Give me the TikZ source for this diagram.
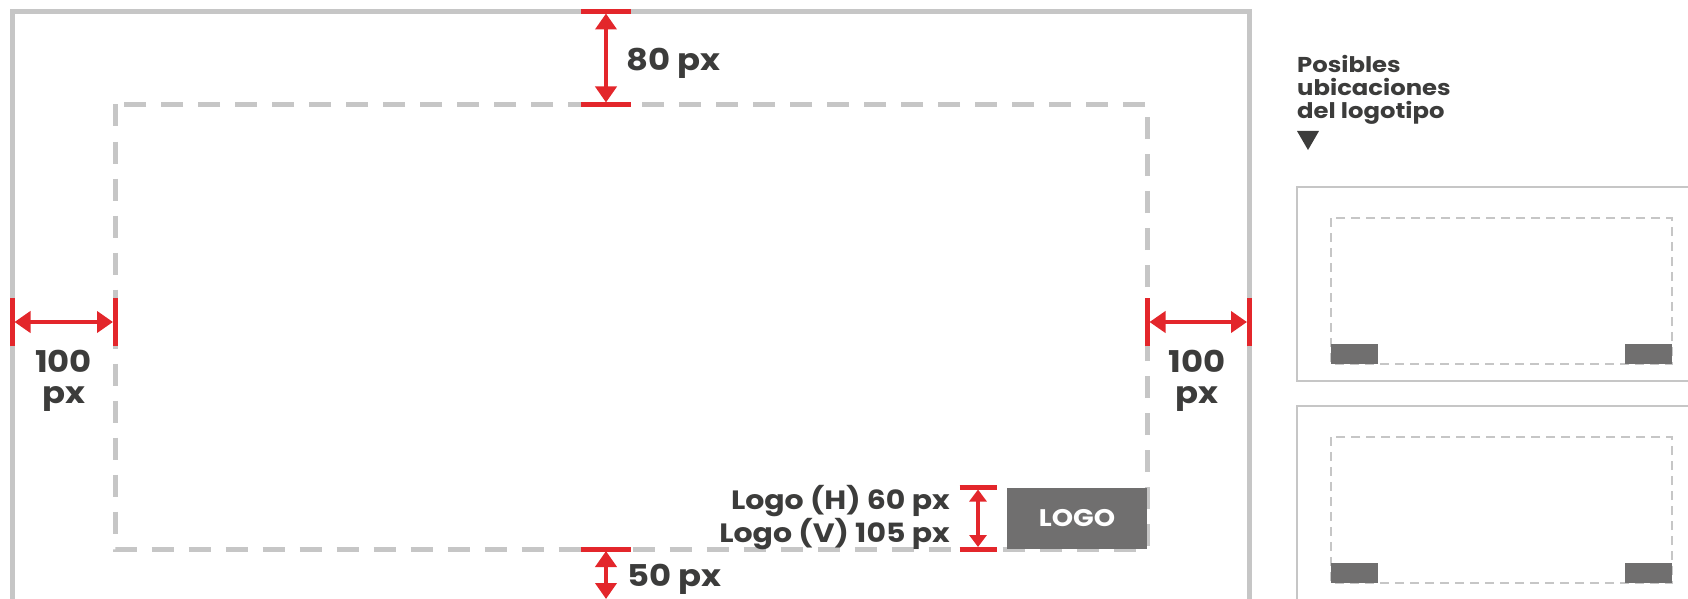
\documentclass[tikz,border=0pt]{standalone}
\usepackage{fontspec}
\setmainfont{Poppins}[FakeStretch=1.13]
\usetikzlibrary{arrows.meta}
\definecolor{gris}{HTML}{C6C6C6}
\definecolor{rojo}{HTML}{E3262B}
\definecolor{oscuro}{HTML}{3C3C3B}
\definecolor{grislogo}{HTML}{706F6F}

\tikzset{
    cota/.style = {draw=rojo, line width=4pt, shorten <=2pt, shorten >=2pt,
        {Triangle[width=21pt, length=16pt]}-{Triangle[width=21pt, length=16pt]}},
    tope/.style = {draw=rojo, line width=5pt},
    rotulo/.style = {text=oscuro, inner sep=0pt, font=\bfseries\fontsize{30}{31}\selectfont}
}

\begin{document}
\begin{tikzpicture}[x=1pt, y=-1pt]
    \useasboundingbox (0,0) rectangle (1688,599);
    % lienzo y zona segura
    \draw[gris, line width=5pt] (12.5,11.5) rectangle (1249,601);
    \draw[gris, line width=5pt, dash pattern=on 22pt off 15pt] (115,104.5) rectangle (1147.5,549);
    \node[fill=grislogo, text=white, inner sep=0pt, minimum width=140.5pt, minimum height=61pt,
        anchor=south east, font=\bfseries\fontsize{24}{24}\selectfont] (logo) at (1147.5,549) {LOGO};

    % margenes
    \coordinate (arriba) at (606,11.5);
    \coordinate (zonaArriba) at (606,104.5);
    \coordinate (zonaAbajo) at (606,549);
    \coordinate (abajo) at (606,601);
    \coordinate (izquierda) at (12.5,322);
    \coordinate (zonaIzq) at (115,322);
    \coordinate (zonaDer) at (1147.5,322);
    \coordinate (derecha) at (1249,322);
    \foreach \c in {arriba, zonaArriba, zonaAbajo, abajo}{
        \draw[tope] ([xshift=-25pt]\c) -- ([xshift=25pt]\c);
    }
    \foreach \c in {izquierda, zonaIzq, zonaDer, derecha}{
        \draw[tope] ([yshift=-24pt]\c) -- ([yshift=24pt]\c);
    }
    \draw[cota] (arriba) -- (zonaArriba);
    \draw[cota] (zonaAbajo) -- (abajo);
    \draw[cota] (izquierda) -- (zonaIzq);
    \draw[cota] (zonaDer) -- (derecha);

    % medida del logo
    \coordinate (logoArriba) at (978,487.5);
    \coordinate (logoAbajo) at (978,549);
    \foreach \c in {logoArriba, logoAbajo}{
        \draw[tope] ([xshift=-18.5pt]\c) -- ([xshift=18.5pt]\c);
    }
    \draw[cota, line width=3.5pt, {Triangle[width=17pt, length=12pt]}-{Triangle[width=17pt, length=12pt]}] (logoArriba) -- (logoAbajo);

    \node[rotulo, anchor=base west] (ochenta) at (626,71) {80 px};
    \node[rotulo, anchor=base west] (cincuenta) at (627,586) {50 px};
    \node[rotulo, align=center, anchor=base] (cienIzq) at (63.5,403) {100\\px};
    \node[rotulo, align=center, anchor=base] (cienDer) at (1197,403) {100\\px};
    \node[rotulo, align=right, anchor=base east, font=\bfseries\fontsize{26.5}{28}\selectfont] (medidas) at (950,542)
        {Logo (H) 60 px\\Logo (V) 105 px};

    % ubicaciones posibles
    \node[rotulo, align=left, anchor=base west, font=\bfseries\fontsize{21.5}{23}\selectfont] (titulo) at (1297,119)
        {Posibles\\ubicaciones\\del logotipo};
    \fill[oscuro] (1297,131) -- (1319,131) -- (1308,150) -- cycle;
    \foreach \y in {0, 219}{
        \draw[gris, line width=2pt] (1297,187+\y) rectangle (1700,381+\y);
        \draw[gris, line width=2pt, dash pattern=on 9pt off 6pt] (1331,218+\y) rectangle (1672,364+\y);
        \fill[grislogo] (1331,344+\y) rectangle (1378,364+\y);
        \fill[grislogo] (1625,344+\y) rectangle (1672,364+\y);
    }
\end{tikzpicture}
\end{document}
